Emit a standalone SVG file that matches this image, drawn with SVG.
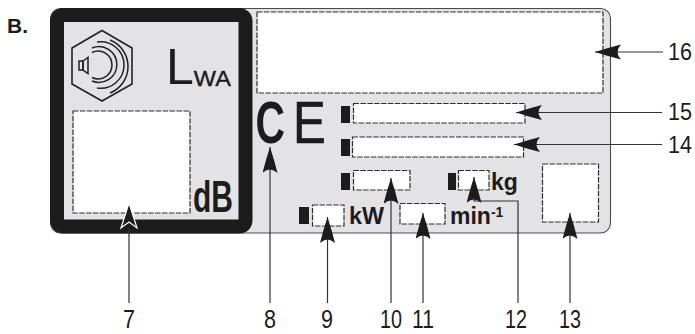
<svg xmlns="http://www.w3.org/2000/svg" width="695" height="334" viewBox="0 0 695 334">
<style>
text{font-family:"Liberation Sans",Arial,sans-serif;fill:#1c1c1c}
.num{font-size:26px}
.side{font-size:24px}
.lab{font-size:23px;font-weight:bold}
.box{fill:#fff;stroke:#2e2e2e;stroke-width:1.2;stroke-dasharray:5.5 1.4}
.tab{fill:#1c1c1c}
.ln{fill:none;stroke:#333;stroke-width:1.2}
.arc{fill:none;stroke:#222;stroke-width:1.5}
</style>
<defs>
<marker id="arrow" markerUnits="userSpaceOnUse" markerWidth="28" markerHeight="16" refX="26" refY="7.500" orient="auto">
<path d="M26,7.500 Q12,3 0,0 Q7,7.500 0,15 Q12,12 26,7.500Z" fill="#1c1c1c"/>
</marker>
</defs>
<rect width="695" height="334" fill="#fff"/>
<text id="title" x="7" y="33" font-size="21" font-weight="bold">B.</text>
<g id="plate">
<rect x="50.500" y="8.500" width="560" height="224.500" rx="10" fill="#e3e3e6" stroke="#4a4a4a" stroke-width="1.100"/>
<rect x="57" y="15" width="188.500" height="211.500" rx="6" fill="none" stroke="#1c1c1c" stroke-width="14"/>
</g>
<g id="sound-symbol">
<path d="M102,30.500 L132,48 L132,84 L102,101 L72,84 L72,48Z" fill="none" stroke="#222" stroke-width="1.600"/>
<rect x="79" y="61" width="4" height="9" fill="none" stroke="#222" stroke-width="1.500"/>
<path d="M83,61 L88,57.500 L88,73.500 L83,70Z" fill="none" stroke="#222" stroke-width="1.500"/>
<path class="arc" d="M92,52.500 A13.900,13.900 0 1 1 92,77.500"/>
<path class="arc" d="M92,48 A17.900,17.900 0 1 1 92,81"/>
<path class="arc" d="M97,42 A23.300,23.300 0 1 1 97,88"/>
<path class="arc" d="M110,40 A28.500,28.500 0 0 1 110,93"/>
</g>
<text id="lwa" x="166" y="84" font-size="50">L<tspan font-size="22" dy="2" stroke="#1c1c1c" stroke-width=".4" textLength="37" lengthAdjust="spacingAndGlyphs">WA</tspan></text>
<g id="node-7"><rect class="box" x="73" y="111" width="117" height="102"/></g>
<text id="db" x="193" y="212" font-size="44" font-weight="bold" textLength="40" lengthAdjust="spacingAndGlyphs">dB</text>
<g id="node-16"><rect class="box" x="257" y="12" width="346" height="81"/></g>
<g id="ce">
<text font-size="60" font-weight="bold" transform="translate(255.500 143) scale(.68 1)">C</text>
<text font-size="60" stroke="#1c1c1c" stroke-width=".7" transform="translate(293 143) scale(.82 1)">E</text>
</g>
<g id="node-15"><rect class="tab" x="341" y="106" width="9" height="17"/><rect class="box" x="353.500" y="103.500" width="171.500" height="19.500"/></g>
<g id="node-14"><rect class="tab" x="341" y="139" width="9" height="17"/><rect class="box" x="352.500" y="137" width="171" height="20"/></g>
<g id="node-10"><rect class="tab" x="341" y="173" width="9" height="17"/><rect class="box" x="353.500" y="170.500" width="56.500" height="19.500"/></g>
<g id="node-12"><rect class="tab" x="448" y="173" width="8" height="17"/><rect class="box" x="458.500" y="170.500" width="30.500" height="19.500"/><text class="lab" x="491" y="190">kg</text></g>
<g id="node-13"><rect class="box" x="542.500" y="164" width="56" height="58"/></g>
<g id="node-9"><rect class="tab" x="299" y="207" width="10" height="17"/><rect class="box" x="312.500" y="205" width="31.500" height="21"/><text class="lab" x="349" y="224" textLength="35" lengthAdjust="spacingAndGlyphs">kW</text></g>
<g id="node-11"><rect class="box" x="400" y="203.500" width="45" height="20.500"/><text class="lab" x="450" y="224">min<tspan font-size="14" dy="-7">-1</tspan></text></g>
<g id="connectors">
<path d="M129,303 V228" class="ln"/>
<path d="M129,203 L137,228 L129,222 L121,228Z" fill="#1c1c1c" stroke="#fff" stroke-width="1.200"/>
<path d="M270,303 V147" class="ln" marker-end="url(#arrow)"/>
<path d="M327.500,303 V217" class="ln" marker-end="url(#arrow)"/>
<path d="M391,303 V178" class="ln" marker-end="url(#arrow)"/>
<path d="M423,303 V213" class="ln" marker-end="url(#arrow)"/>
<path d="M518,303 V201 H474 V177" class="ln" marker-end="url(#arrow)"/>
<path d="M570,303 V213" class="ln" marker-end="url(#arrow)"/>
<path d="M663,52 H595" class="ln" marker-end="url(#arrow)"/>
<path d="M662,112.500 H516" class="ln" marker-end="url(#arrow)"/>
<path d="M662,144.500 H514" class="ln" marker-end="url(#arrow)"/>
</g>
<g id="labels">
<text class="num" x="123" y="328" textLength="12" lengthAdjust="spacingAndGlyphs">7</text>
<text class="num" x="264" y="328" textLength="12" lengthAdjust="spacingAndGlyphs">8</text>
<text class="num" x="321" y="328" textLength="12" lengthAdjust="spacingAndGlyphs">9</text>
<text class="num" x="380" y="328" textLength="22" lengthAdjust="spacingAndGlyphs">10</text>
<text class="num" x="412" y="328" textLength="22" lengthAdjust="spacingAndGlyphs">11</text>
<text class="num" x="505" y="328" textLength="22" lengthAdjust="spacingAndGlyphs">12</text>
<text class="num" x="559" y="328" textLength="22" lengthAdjust="spacingAndGlyphs">13</text>
<text class="side" x="668" y="60" textLength="24" lengthAdjust="spacingAndGlyphs">16</text>
<text class="side" x="668" y="120" textLength="24" lengthAdjust="spacingAndGlyphs">15</text>
<text class="side" x="668" y="153" textLength="24" lengthAdjust="spacingAndGlyphs">14</text>
</g>
</svg>
